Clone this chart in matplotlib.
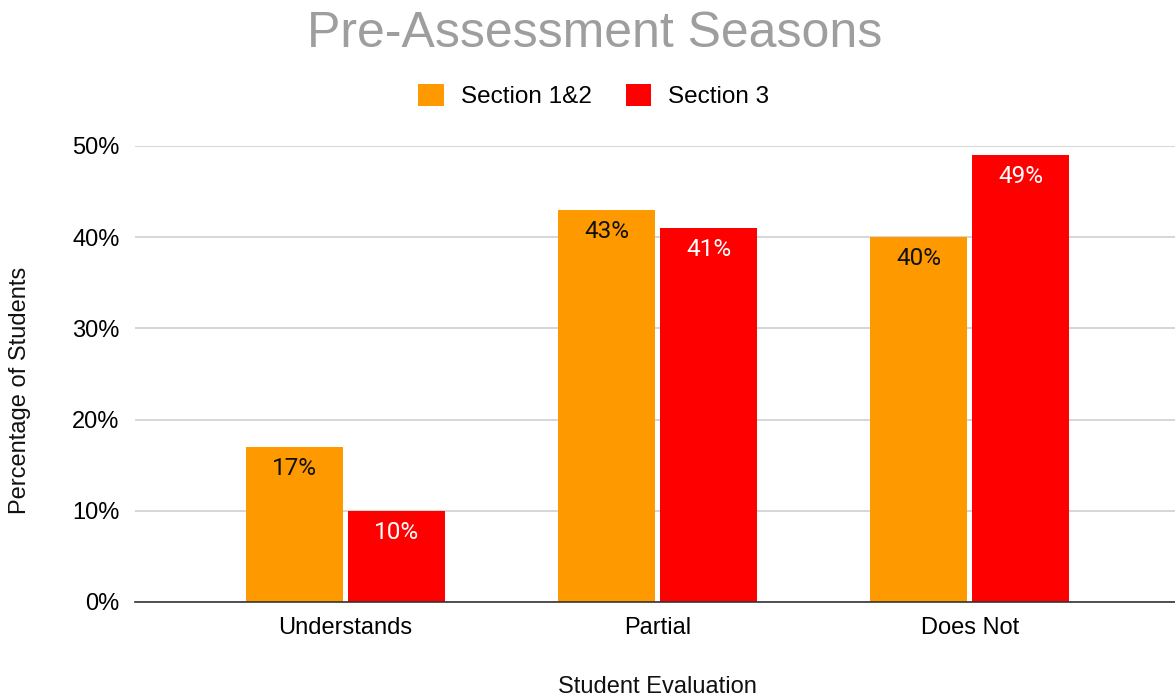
import matplotlib
matplotlib.use('Agg')
import matplotlib.pyplot as plt
import numpy as np

# data
categories = ["Understands", "Partial", "Does Not"]
section_12 = [17, 43, 40]
section_3 = [10, 41, 49]
series_names = ["Section 1&2", "Section 3"]
y_ticks = [0, 10, 20, 30, 40, 50]

ORANGE = "#FF9900"
RED = "#FF0000"

plt.rcParams['font.family'] = ['Liberation Sans', 'DejaVu Sans']

fig = plt.figure(figsize=(11.75, 6.98), dpi=100)
ax = fig.add_axes([135 / 1175, 1 - 602 / 698, 1 - 135 / 1175, (602 - 146) / 698])

x = np.arange(len(categories))
off = 0.1635
w = 0.311
b1 = ax.bar(x - off, section_12, w, color=ORANGE, zorder=3, label=series_names[0])
b2 = ax.bar(x + off, section_3, w, color=RED, zorder=3, label=series_names[1])

# value labels inside bars
for bars, vals, col in [(b1, section_12, "#111111"), (b2, section_3, "white")]:
    for bar, v in zip(bars, vals):
        ax.annotate(f"{v}%", (bar.get_x() + bar.get_width() / 2, v),
                    xytext=(0, -15.5), textcoords="offset points",
                    ha="center", va="center", fontsize=17.5, color=col,
                    family=["Roboto", "DejaVu Sans"], zorder=4)

ax.set_xlim(-0.673, 2.657)
ax.set_ylim(0, 50)
ax.set_yticks(y_ticks)
ax.set_yticklabels([f"{t}%" for t in y_ticks], fontsize=17)
ax.set_xticks(x)
ax.set_xticklabels(categories, fontsize=17)
ax.tick_params(axis='x', length=0, pad=11)
ax.tick_params(axis='y', length=0, pad=11)

ax.grid(True, axis='y', color="#cccccc", linewidth=1.1, zorder=0)
for s in ["top", "right", "left"]:
    ax.spines[s].set_visible(False)
ax.spines["bottom"].set_color("#333333")
ax.spines["bottom"].set_linewidth(1.2)
ax.spines["bottom"].set_zorder(5)

fig.text(595 / 1175, 1 - 34 / 698, "Pre-Assessment Seasons", ha="center", va="center",
         fontsize=36, color="#9e9e9e")
fig.text(20 / 1175, 1 - 390 / 698, "Percentage of Students", rotation=90,
         ha="center", va="center", fontsize=17, color="#111111")
fig.text(657 / 1175, 1 - 687 / 698, "Student Evaluation", ha="center", va="center",
         fontsize=17, color="#111111")

leg = fig.legend(handles=[b1, b2], labels=series_names, loc="center",
                 bbox_to_anchor=(594 / 1175, 1 - 96 / 698), ncol=2, frameon=False,
                 fontsize=17.5, handlelength=1.05, handleheight=1.05,
                 handletextpad=0.7, columnspacing=1.4)

fig.savefig("out.png", dpi=100)
